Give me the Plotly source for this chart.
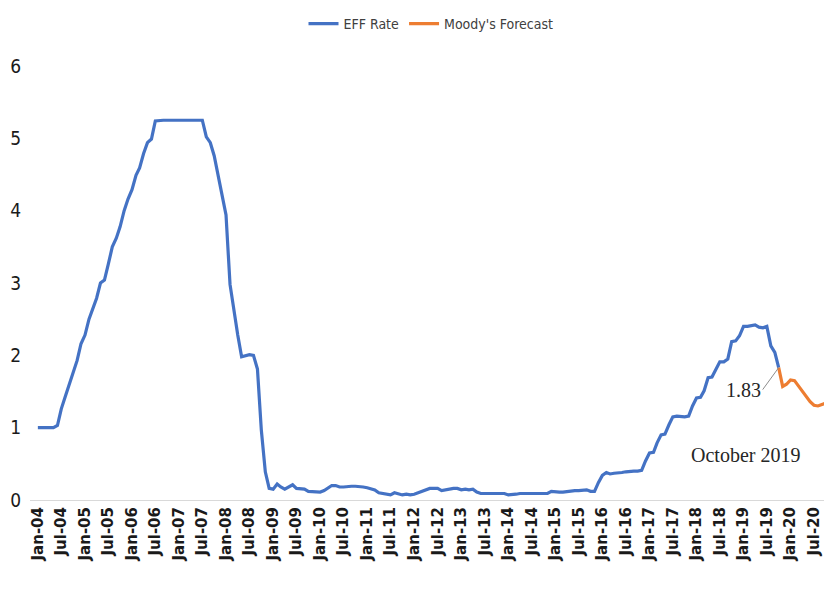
import pandas as pd
import plotly.graph_objects as go

# Effective Federal Funds rate, monthly, Jan 2004 - Oct 2019
eff_start = "2004-01-01"
eff_rate = [
    1.00, 1.00, 1.00, 1.00, 1.00, 1.03, 1.26, 1.43, 1.61, 1.76, 1.93, 2.16,   # 2004
    2.28, 2.50, 2.63, 2.79, 3.00, 3.04, 3.26, 3.50, 3.62, 3.78, 4.00, 4.16,   # 2005
    4.29, 4.49, 4.59, 4.79, 4.94, 4.99, 5.24, 5.25, 5.25, 5.25, 5.25, 5.24,   # 2006
    5.25, 5.25, 5.25, 5.25, 5.25, 5.25, 5.25, 5.02, 4.94, 4.76, 4.49, 4.24,   # 2007
    3.94, 2.98, 2.61, 2.28, 1.98, 2.00, 2.01, 2.00, 1.81, 0.97, 0.39, 0.16,   # 2008
    0.15, 0.22, 0.18, 0.15, 0.18, 0.21, 0.16, 0.16, 0.15, 0.12, 0.12, 0.12,   # 2009
    0.11, 0.13, 0.16, 0.20, 0.20, 0.18, 0.18, 0.19, 0.19, 0.19, 0.19, 0.18,   # 2010
    0.17, 0.16, 0.14, 0.10, 0.09, 0.09, 0.07, 0.10, 0.08, 0.07, 0.08, 0.07,   # 2011
    0.08, 0.10, 0.13, 0.14, 0.16, 0.16, 0.16, 0.13, 0.14, 0.16, 0.16, 0.16,   # 2012
    0.14, 0.15, 0.14, 0.15, 0.11, 0.09, 0.09, 0.08, 0.08, 0.09, 0.08, 0.09,   # 2013
    0.07, 0.07, 0.08, 0.09, 0.09, 0.10, 0.09, 0.09, 0.09, 0.09, 0.09, 0.12,   # 2014
    0.11, 0.11, 0.11, 0.12, 0.12, 0.13, 0.13, 0.14, 0.14, 0.12, 0.12, 0.24,   # 2015
    0.34, 0.38, 0.36, 0.37, 0.37, 0.38, 0.39, 0.40, 0.40, 0.40, 0.41, 0.54,   # 2016
    0.65, 0.66, 0.79, 0.90, 0.91, 1.04, 1.15, 1.16, 1.15, 1.15, 1.16, 1.30,   # 2017
    1.41, 1.42, 1.51, 1.69, 1.70, 1.82, 1.91, 1.91, 1.95, 2.19, 2.20, 2.27,   # 2018
    2.40, 2.40, 2.41, 2.42, 2.39, 2.38, 2.40, 2.13, 2.04, 1.83,               # 2019
]

# Moody's forecast, monthly, Oct 2019 - Nov 2020
forecast_start = "2019-10-01"
forecast = [1.83, 1.57, 1.60, 1.66, 1.65, 1.58, 1.50, 1.42, 1.36, 1.31, 1.30, 1.32, 1.34, 1.34]

tick_dates = [f"{y}-{m:02d}-01" for y in range(2004, 2021) for m in (1, 7)]
tick_labels = [
    "Jan-04", "Jul-04", "Jan-05", "Jul-05", "Jan-06", "Jul-06", "Jan-07", "Jul-07",
    "Jan-08", "Jul-08", "Jan-09", "Jul-09", "Jan-10", "Jul-10", "Jan-11", "Jul-11",
    "Jan-12", "Jul-12", "Jan-13", "Jul-13", "Jan-14", "Jul-14", "Jan-15", "Jul-15",
    "Jan-16", "Jul-16", "Jan-17", "Jul-17", "Jan-18", "Jul-18", "Jan-19", "Jul-19",
    "Jan-20", "Jul-20",
]

eff_dates = pd.date_range(eff_start, periods=len(eff_rate), freq="MS")
fc_dates = pd.date_range(forecast_start, periods=len(forecast), freq="MS")

BLUE = "#4472C4"
ORANGE = "#ED7D31"
NARROW = "Liberation Sans Narrow, DejaVu Sans Condensed, sans-serif"

fig = go.Figure()
fig.add_trace(go.Scatter(x=eff_dates, y=eff_rate, mode="lines", name="EFF Rate",
                         line=dict(color=BLUE, width=3.2)))
fig.add_trace(go.Scatter(x=fc_dates, y=forecast, mode="lines", name="Moody's Forecast",
                         line=dict(color=ORANGE, width=3.2)))

serif = "Liberation Serif, Times New Roman, serif"
fig.add_annotation(x=fc_dates[0], y=forecast[0], text="1.83", showarrow=True,
                   arrowhead=0, arrowwidth=1, arrowcolor="#8c8c8c",
                   ax=-16, ay=22, xanchor="right",
                   font=dict(family=serif, size=20, color="#262626"))
fig.add_annotation(x="2019-01-15", y=0.62, text="October 2019", showarrow=False,
                   font=dict(family=serif, size=20, color="#262626"))

fig.update_layout(
    width=832, height=592,
    margin=dict(l=22, r=8, t=58, b=100, autoexpand=False),
    paper_bgcolor="white", plot_bgcolor="white",
    showlegend=True,
    legend=dict(orientation="h", x=0.5, xanchor="center", y=1.0, yref="container",
                yanchor="top", borderwidth=0,
                font=dict(family=NARROW, size=14, color="#404040")),
    xaxis=dict(type="date", range=["2003-11-01", "2020-11-18"], automargin=False,
               tickvals=tick_dates, ticktext=tick_labels, tickangle=-90,
               showgrid=False, zeroline=False, showline=True, linecolor="#d9d9d9",
               linewidth=1, ticks="",
               tickfont=dict(family="DejaVu Sans", size=15, color="#1a1a1a", weight="bold")),
    yaxis=dict(range=[0, 6], tickvals=[0, 1, 2, 3, 4, 5, 6], showgrid=False,
               automargin=False, zeroline=False, showline=False, ticks="",
               ticklabelstandoff=8,
               tickfont=dict(family=NARROW, size=19, color="#1a1a1a")),
)

fig.write_html("out.html")
